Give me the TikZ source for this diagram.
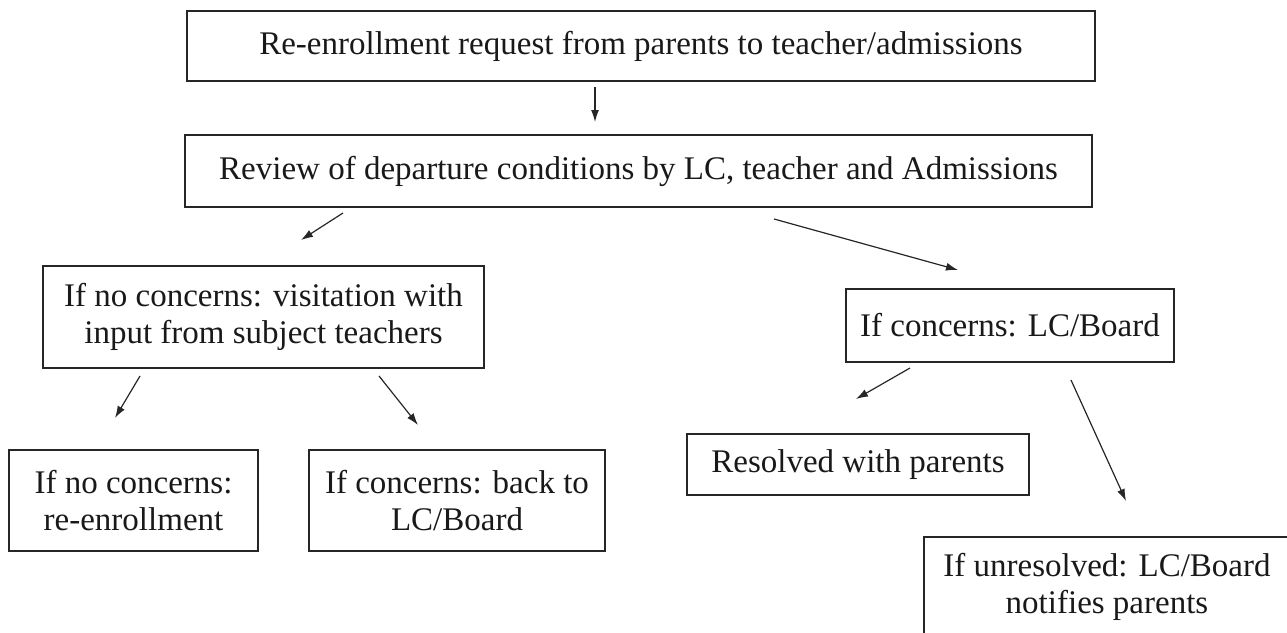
\documentclass[tikz,border=0pt]{standalone}
\usepackage{fontspec}
\setmainfont{Liberation Serif}
\usetikzlibrary{arrows.meta}
\usetikzlibrary{positioning}

\tikzset{
  box/.style={draw=black!85, line width=1.3pt, align=center, inner sep=0pt,
    text=black!90, font=\fontsize{33}{37}\selectfont},
  arr/.style={-{Latex[length=12pt,width=8pt]}, line width=1.2pt, draw=black!85},
}

\begin{document}
\begin{tikzpicture}[x=1pt,y=-1pt]

\useasboundingbox (0,0) rectangle (1287,632);
\clip (0,0) rectangle (1287,632);

%%% Demande et revue

\node[box, minimum width=908pt, minimum height=70pt] (request) at (641,46)
{Re-enrollment request from parents to teacher/admissions};
\node[box, minimum width=907pt, minimum height=72pt] (review) at (638.5,171)
{Review of departure conditions by LC, teacher and Admissions};

%%% Branche gauche

\node[box, minimum width=441pt, minimum height=102pt] (visit) at (263.5,317)
{If no concerns: visitation with\\input from subject teachers};
\node[box, minimum width=249pt, minimum height=101pt] (reenrol) at (133.5,500.5)
{If no concerns:\\re-enrollment};
\node[box, minimum width=296pt, minimum height=101pt] (backlc) at (457,500.5)
{If concerns: back to\\LC/Board};

%%% Branche droite

\node[box, minimum width=328pt, minimum height=73pt] (concern) at (1010,325.5)
{If concerns: LC/Board};
\node[box, minimum width=342pt, minimum height=61pt] (resolved) at (858,464.5)
{Resolved with parents};
\node[box, minimum width=366pt, minimum height=100pt] (unresolved) at (1107,587)
{If unresolved: LC/Board\\notifies parents};

%%% Fleches

\coordinate (a1s) at (595,87);   \coordinate (a1e) at (595,122);
\coordinate (a2s) at (343,213);  \coordinate (a2e) at (301,240);
\coordinate (a3s) at (774,219);  \coordinate (a3e) at (958,270);
\coordinate (a4s) at (140,376);  \coordinate (a4e) at (115,418);
\coordinate (a5s) at (379,376);  \coordinate (a5e) at (418,425);
\coordinate (a6s) at (910,368);  \coordinate (a6e) at (856,399);
\coordinate (a7s) at (1071,380); \coordinate (a7e) at (1126,501);

\draw[arr] (a1s) -- (a1e);
\draw[arr] (a2s) -- (a2e);
\draw[arr] (a3s) -- (a3e);
\draw[arr] (a4s) -- (a4e);
\draw[arr] (a5s) -- (a5e);
\draw[arr] (a6s) -- (a6e);
\draw[arr] (a7s) -- (a7e);

\end{tikzpicture}
\end{document}
